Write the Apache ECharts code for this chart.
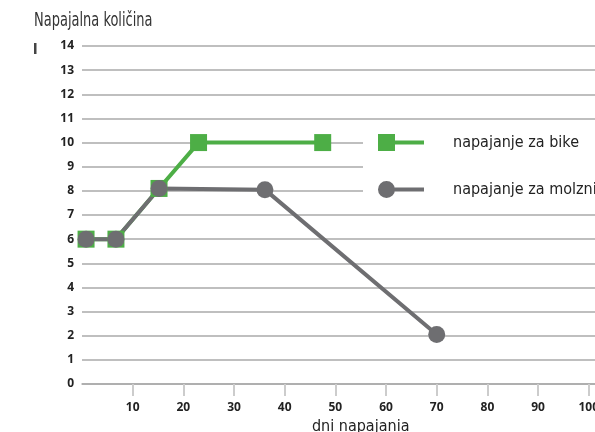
<!DOCTYPE html>
<html>
<head>
<meta charset="utf-8">
<script src="https://cdn.jsdelivr.net/npm/echarts@6/dist/echarts.min.js"></script>
<style>
  html, body { margin: 0; padding: 0; background: #fff; }
  #main { width: 595px; height: 432px; }
</style>
</head>
<body>
<div id="main"></div>
<script>
// podatki
var seriesNames = ['napajanje za bike', 'napajanje za molznice']
var bikeData = [[0.8, 6], [6.7, 6], [15.2, 8.1], [23, 10], [47.5, 10]]
var molzniceData = [[0.8, 6], [6.7, 6], [15.2, 8.1], [36.1, 8.05], [70, 2.05]]
var xTicks = [10, 20, 30, 40, 50, 60, 70, 80, 90, 100]

var labelFont = '"Open Sans", "DejaVu Sans", sans-serif'
var narrowFont = '"DejaVu Sans Condensed", "Liberation Sans Narrow", sans-serif'

var myChart = echarts.init(document.getElementById('main'))
var option = {
  animation: false,
  graphic: [
    // naslov osi y (stisnjen kot v predlogi)
    {
      type: 'text', x: 34, y: 12, scaleX: 0.76,
      style: { text: 'Napajalna količina', fontFamily: narrowFont, fontSize: 19, fill: '#333' }
    },
    { type: 'rect', shape: { x: 34, y: 43, width: 2.5, height: 11 }, style: { fill: '#444' } }
  ],
  legend: {
    left: 363,
    top: 126,
    orient: 'vertical',
    backgroundColor: '#fff',
    padding: [8, 20, 8, 15],
    itemWidth: 46,
    itemHeight: 17,
    itemGap: 30,
    textStyle: { fontFamily: narrowFont, fontSize: 16, color: '#222', padding: [0, 0, 0, 24] },
    data: [
      { name: seriesNames[0], icon: 'path://M0,0H17V6.5H46V10.5H17V17H0Z' },
      { name: seriesNames[1], icon: 'path://M8.5,0A8.5,8.5 0 1 1 8.5,17A8.5,8.5 0 1 1 8.5,0ZM15,6.5H46V10.5H15Z' }
    ]
  },
  grid: { left: 82, top: 46, width: 557.4, height: 338, outerBoundsMode: 'none', containLabel: false },
  xAxis: {
    type: 'value',
    min: 0,
    max: 110,
    interval: 10,
    name: 'dni napajania',
    nameLocation: 'middle',
    nameGap: 26,
    nameTextStyle: { fontFamily: narrowFont, fontSize: 16, color: '#222' },
    axisLine: { show: true, lineStyle: { color: '#aaa', width: 1.5 } },
    axisTick: { show: true, customValues: xTicks, length: 12, lineStyle: { color: '#ccc', width: 2 } },
    axisLabel: { customValues: xTicks, margin: 18, fontFamily: labelFont, fontWeight: 'bold', fontSize: 12, color: '#222' },
    splitLine: { show: false }
  },
  yAxis: {
    type: 'value',
    min: 0,
    max: 14,
    interval: 1,
    axisLine: { show: false },
    axisTick: { show: false },
    axisLabel: { margin: 8, fontFamily: labelFont, fontWeight: 'bold', fontSize: 12, color: '#222' },
    splitLine: { lineStyle: { color: '#aaa', width: 1.5 } }
  },
  series: [
    {
      name: seriesNames[0],
      type: 'line',
      data: bikeData,
      symbol: 'rect',
      symbolSize: 17,
      color: '#4dae46',
      lineStyle: { width: 4, color: '#4dae46' },
      itemStyle: { color: '#4dae46' }
    },
    {
      name: seriesNames[1],
      type: 'line',
      data: molzniceData,
      symbol: 'circle',
      symbolSize: 17,
      color: '#6e6e71',
      lineStyle: { width: 4, color: '#6e6e71' },
      itemStyle: { color: '#6e6e71' }
    }
  ]
}
myChart.setOption(option)
</script>
</body>
</html>
